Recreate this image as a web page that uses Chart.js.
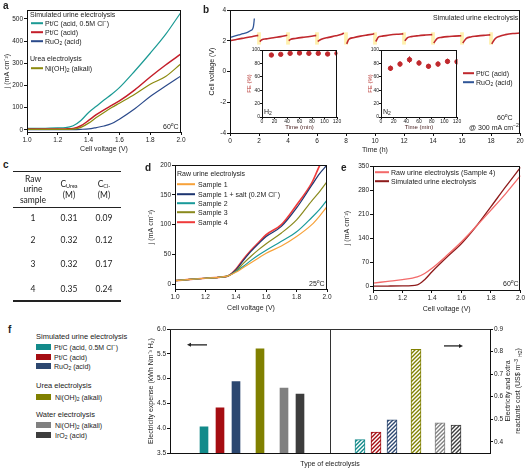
<!DOCTYPE html>
<html>
<head>
<meta charset="utf-8">
<title>Urine electrolysis</title>
<script src="https://cdn.jsdelivr.net/npm/chart.js@4.4.1/dist/chart.umd.min.js"></script>
<style>
  body { margin: 0; background: #fff; }
  #fig { position: relative; width: 526px; height: 469px; overflow: hidden;
         font-family: "Liberation Sans", Arial, sans-serif; color: #222; }
  #fig canvas { position: absolute; }
  .t { position: absolute; white-space: nowrap; font-size: 7px; line-height: 1; transform: translateY(-50%); }
  .t sub, .rot sub { font-size: 5px; line-height: 0; vertical-align: -1.5px; }
  .t sup, .rot sup { font-size: 5px; line-height: 0; vertical-align: 2.5px; }
  .pl { position: absolute; font-weight: bold; font-size: 10px; line-height: 1; transform: translateY(-50%); }
  .sw { position: absolute; height: 1.6px; transform: translateY(-50%); }
  .bx { position: absolute; width: 15px; height: 6px; transform: translateY(-50%); }
  .c { position: absolute; font-family: Lato, "Open Sans", sans-serif; font-size: 8.5px; line-height: 1;
       white-space: nowrap; transform: translate(-50%, -50%); color: #222; }
  .c sub { font-size: 5.5px; vertical-align: -1px; line-height: 0; }
  .rule { position: absolute; left: 13px; width: 108px; background: #222; }
  .rot { position: absolute; transform: translate(-50%, -50%) rotate(-90deg); text-align: center;
         font-size: 7px; line-height: 10px; white-space: nowrap; }
</style>
</head>
<body>
<div id="fig">
  <canvas id="chartA"></canvas>
  <canvas id="chartB"></canvas>
  <canvas id="chartH2"></canvas>
  <canvas id="chartN2"></canvas>
  <canvas id="chartD"></canvas>
  <canvas id="chartE"></canvas>
  <canvas id="chartF"></canvas>

  <!-- panel letters -->
  <div class="pl" style="left:3px;top:6px">a</div>
  <div class="pl" style="left:203px;top:10px">b</div>
  <div class="pl" style="left:3px;top:165px">c</div>
  <div class="pl" style="left:145px;top:168px">d</div>
  <div class="pl" style="left:341px;top:168px">e</div>
  <div class="pl" style="left:8px;top:330px">f</div>

  <!-- a legend -->
  <div class="t" style="left:30px;top:14px">Simulated urine electrolysis</div>
  <div class="sw" style="left:31px;top:23px;width:12px;background:#1b9a94"></div>
  <div class="t" style="left:45px;top:23px">Pt/C (acid, 0.5M Cl<sup>−</sup>)</div>
  <div class="sw" style="left:31px;top:32px;width:12px;background:#c41e2a"></div>
  <div class="t" style="left:45px;top:32px">Pt/C (acid)</div>
  <div class="sw" style="left:31px;top:41px;width:12px;background:#2b4a8b"></div>
  <div class="t" style="left:45px;top:41px">RuO<sub>2</sub> (acid)</div>
  <div class="t" style="left:30px;top:58px">Urea electrolysis</div>
  <div class="sw" style="left:31px;top:68px;width:12px;background:#8c8a0e"></div>
  <div class="t" style="left:45px;top:68px">Ni(OH)<sub>2</sub> (alkali)</div>
  <div class="t" style="left:163px;top:126px">60<sup>o</sup>C</div>

  <!-- b annotations -->
  <div class="t" style="left:433px;top:17px">Simulated urine electrolysis</div>
  <div class="sw" style="left:463px;top:73px;width:11px;background:#c0282d"></div>
  <div class="t" style="left:476px;top:73px">Pt/C (acid)</div>
  <div class="sw" style="left:463px;top:82px;width:11px;background:#2f5597"></div>
  <div class="t" style="left:476px;top:82px">RuO<sub>2</sub> (acid)</div>
  <div class="t" style="left:497px;top:117px">60<sup>o</sup>C</div>
  <div class="t" style="left:469px;top:127px">@ 300 mA cm<sup>−2</sup></div>
  <div class="t" style="left:264px;top:111px">H<sub>2</sub></div>
  <div class="t" style="left:383px;top:111px">N<sub>2</sub></div>

  <!-- c table -->
  <div class="rule" style="top:171px;height:1px"></div>
  <div class="rule" style="top:207px;height:1px"></div>
  <div class="rule" style="top:300px;height:1.5px"></div>
  <div class="c" style="left:33px;top:179px">Raw</div>
  <div class="c" style="left:33px;top:189px">urine</div>
  <div class="c" style="left:33px;top:200px">sample</div>
  <div class="c" style="left:69px;top:184px">C<sub>Urea</sub></div>
  <div class="c" style="left:69px;top:195px">(M)</div>
  <div class="c" style="left:104px;top:184px">C<sub>Cl-</sub></div>
  <div class="c" style="left:104px;top:195px">(M)</div>
  <div id="tableRows"></div>

  <!-- d legend -->
  <div class="t" style="left:177px;top:173px">Raw urine electrolysis</div>
  <div class="sw" style="left:177px;top:184px;width:18px;background:#f7a23a"></div>
  <div class="t" style="left:198px;top:184px">Sample 1</div>
  <div class="sw" style="left:177px;top:194px;width:18px;background:#1d3570"></div>
  <div class="t" style="left:198px;top:194px">Sample 1 + salt (0.2M Cl<sup>−</sup>)</div>
  <div class="sw" style="left:177px;top:203px;width:18px;background:#1a9a9a"></div>
  <div class="t" style="left:198px;top:203px">Sample 2</div>
  <div class="sw" style="left:177px;top:212px;width:18px;background:#8a8a1e"></div>
  <div class="t" style="left:198px;top:212px">Sample 3</div>
  <div class="sw" style="left:177px;top:222px;width:18px;background:#ef3b3b"></div>
  <div class="t" style="left:198px;top:222px">Sample 4</div>
  <div class="t" style="left:309px;top:283px">25<sup>o</sup>C</div>

  <!-- e legend -->
  <div class="sw" style="left:375px;top:172px;width:14px;background:#f36a6a"></div>
  <div class="t" style="left:391px;top:172px">Raw urine electrolysis (Sample 4)</div>
  <div class="sw" style="left:375px;top:181px;width:14px;background:#8e1b1b"></div>
  <div class="t" style="left:391px;top:181px">Simulated urine electrolysis</div>
  <div class="t" style="left:503px;top:283px">60<sup>o</sup>C</div>

  <!-- f legend -->
  <div class="t" style="left:36px;top:337px;font-size:7.5px">Simulated urine electrolysis</div>
  <div class="bx" style="left:36px;top:347px;background:#138a8a"></div>
  <div class="t" style="left:54px;top:347px">Pt/C (acid, 0.5M Cl<sup>−</sup>)</div>
  <div class="bx" style="left:36px;top:357px;background:#a50d12"></div>
  <div class="t" style="left:54px;top:357px">Pt/C (acid)</div>
  <div class="bx" style="left:36px;top:366px;background:#2c4770"></div>
  <div class="t" style="left:54px;top:366px">RuO<sub>2</sub> (acid)</div>
  <div class="t" style="left:36px;top:386px;font-size:7.5px">Urea electrolysis</div>
  <div class="bx" style="left:36px;top:397px;background:#808000"></div>
  <div class="t" style="left:55px;top:397px">Ni(OH)<sub>2</sub> (alkali)</div>
  <div class="t" style="left:36px;top:415px;font-size:7.5px">Water electrolysis</div>
  <div class="bx" style="left:36px;top:425px;background:#808080"></div>
  <div class="t" style="left:55px;top:425px">Ni(OH)<sub>2</sub> (alkali)</div>
  <div class="bx" style="left:36px;top:435px;background:#3d3d3d"></div>
  <div class="t" style="left:55px;top:435px">IrO<sub>2</sub> (acid)</div>
  <div class="rot" style="left:513px;top:391px">Electricity and extra<br>reactants cost (US$ m<sup>−3</sup> <sub>H2</sub>)</div>
</div>

<script>
// ── Data: a (polarisation, simulated urine, 60 °C) ────────
const A_V      = [1.0, 1.1, 1.2, 1.25, 1.3, 1.35, 1.4, 1.45, 1.5, 1.55, 1.6, 1.7, 1.8, 1.9, 2.0];
const A_PTC_CL = [6, 7, 9, 10, 18, 42, 78, 106, 134, 160, 190, 265, 345, 430, 530];
const A_PTC    = [3, 3, 3, 4, 6, 18, 42, 68, 90, 110, 130, 180, 238, 292, 342];
const A_RUO2   = [1, 1, 1, 1, 1, 2, 4, 10, 17, 28, 48, 95, 150, 197, 243];
const A_NIOH   = [2, 2, 2, 2, 3, 11, 30, 55, 78, 100, 120, 160, 205, 240, 298];
const A_YTICKS = [0, 100, 200, 300, 400, 500];

// ── Data: b (stability at 300 mA cm-2) ───────────────────
const B_PTC_T = [0, 0.5, 1, 1.5, 1.95, 2,
  2.05, 2.2, 2.5, 3, 3.5, 3.95, 4,
  4.05, 4.2, 4.5, 5, 5.5, 5.95, 6,
  6.05, 6.3, 6.8, 7.3, 7.7, 7.85, 7.95,
  8.05, 8.2, 8.5, 9, 9.5, 9.95, 10,
  10.05, 10.25, 10.5, 11, 11.5, 11.95, 12,
  12.05, 12.25, 12.5, 13, 13.5, 13.95, 14,
  14.05, 14.3, 14.6, 15, 15.5, 15.95, 16,
  16.05, 16.3, 16.6, 17, 17.5, 17.95, 18,
  18.05, 18.3, 18.6, 19, 19.5, 20];
const B_PTC_V = [2.0, 2.1, 2.18, 2.26, 2.35, null,
  1.95, 2.07, 2.12, 2.2, 2.27, 2.36, null,
  2.0, 2.1, 2.15, 2.22, 2.28, 2.35, null,
  1.95, 2.1, 2.22, 2.32, 2.42, 2.5, null,
  1.8, 2.1, 2.2, 2.3, 2.38, 2.45, null,
  1.95, 2.25, 2.3, 2.37, 2.42, 2.45, null,
  2.0, 2.2, 2.27, 2.33, 2.37, 2.4, null,
  1.85, 2.15, 2.22, 2.27, 2.3, 2.33, null,
  1.85, 2.15, 2.25, 2.3, 2.35, 2.38, null,
  1.8, 2.15, 2.3, 2.4, 2.47, 2.5];
const B_RUO2_T = [0, 0.3, 0.6, 0.9, 1.2, 1.4, 1.55, 1.62, 1.68];
const B_RUO2_V = [2.22, 2.3, 2.38, 2.46, 2.55, 2.65, 2.75, 2.95, 3.45];
const B_RESETS = [2, 4, 6, 8, 10, 12, 14, 16, 18];

// ── Data: b insets (Faradaic efficiency) ──────────────────
const FE_T     = [15, 30, 45, 60, 75, 90, 105, 120];
const FE_H2    = [92.5, 93.5, 95, 95.5, 95, 95, 94, 95];
const FE_H2_ER = [1.5, 1.5, 1.5, 1.5, 1.5, 1.5, 1.5, 1.5];
const FE_N2    = [72.7, 79, 85.6, 80.6, 75.7, 79, 83, 82.5];
const FE_N2_ER = [4, 4, 5, 4, 3.5, 4, 4, 4];

// ── Data: c (raw urine composition) ───────────────────────
const C_SAMPLE = [1, 2, 3, 4];
const C_UREA   = ['0.31', '0.32', '0.32', '0.35'];
const C_CL     = ['0.09', '0.12', '0.17', '0.24'];

// ── Data: d (raw urine samples, 25 °C) ────────────────────
const D_V      = [1.0, 1.1, 1.2, 1.3, 1.35, 1.4, 1.45, 1.5, 1.55, 1.6, 1.7, 1.8, 1.9, 1.95, 2.0];
const D_S1     = [6, 8, 10, 12, 14, 20, 28, 36, 44, 52, 64, 80, 100, 114, 130];
const D_S1SALT = [6, 8, 10, 12, 14, 24, 40, 55, 68, 80, 97, 128, 166, 185, 200];
const D_S2     = [6, 8, 10, 12, 14, 21, 30, 40, 49, 57, 72, 88, 112, 125, 141];
const D_S3     = [6, 8, 10, 12, 14, 22, 35, 47, 58, 68, 86, 108, 140, 155, 172];
const D_S4     = [6, 8, 10, 12, 14, 25, 42, 57, 70, 83, 100, 133, 170, 198, 222];

// ── Data: e (raw vs simulated, 60 °C) ─────────────────────
const E_V   = [1.0, 1.1, 1.2, 1.3, 1.35, 1.4, 1.5, 1.6, 1.7, 1.8, 1.9, 2.0];
const E_RAW = [10, 15, 20, 28, 38, 53, 90, 130, 175, 222, 270, 322];
const E_SIM = [1, 1.5, 2, 5, 20, 43, 85, 125, 175, 232, 290, 346];

// ── Data: f (cost comparison) ─────────────────────────────
const F_CATS    = ['Pt/C (acid, 0.5M Cl⁻)', 'Pt/C (acid)', 'RuO₂ (acid)', 'Ni(OH)₂ (alkali, urea)', 'Ni(OH)₂ (alkali, water)', 'IrO₂ (acid)'];
const F_EXPENSE = [4.05, 4.43, 4.96, 5.62, 4.83, 4.71];
const F_COST    = [0.409, 0.443, 0.497, 0.81, 0.484, 0.474];
const F_COLORS  = ['#138a8a', '#a50d12', '#2c4770', '#808000', '#808080', '#3d3d3d'];
// slot layout on an 80-slot category axis
const F_NSLOTS = 80;
const F_SLOT_EXP  = [8, 12, 16, 22, 28, 32];
const F_SLOT_COST = [47, 51, 55, 61, 67, 71];

// ── Shared helpers ────────────────────────────────────────
const FONT = '"Liberation Sans", Arial, sans-serif';
const xy = (xs, ys) => xs.map((x, i) => ({ x, y: ys[i] }));

function build(id, area, pad, cfg) {
  const c = document.getElementById(id);
  const w = area.w + pad.l + pad.r, h = area.h + pad.t + pad.b;
  Object.assign(c.style, { left: (area.l - pad.l) + 'px', top: (area.t - pad.t) + 'px', width: w + 'px', height: h + 'px' });
  c.width = w; c.height = h;
  const o = cfg.options;
  o.responsive = false;
  o.animation = false;
  o.layout = { padding: { top: pad.t, right: o.scales.y1 ? 0 : pad.r, left: 0, bottom: 0 } };
  o.plugins = Object.assign({ legend: { display: false }, tooltip: { enabled: false } }, o.plugins || {});
  o.scales.x.afterFit = s => { s.height = pad.b; };
  o.scales.y.afterFit = s => { s.width = pad.l; };
  if (o.scales.y1) o.scales.y1.afterFit = s => { s.width = pad.r; };
  return new Chart(c, cfg);
}

// axis with outward ticks; ticks/grid are merged rather than replaced
function axis(extra, size = 6.5, tickLen = 3) {
  const ticks = { color: '#222', font: { size, family: FONT }, padding: 1, maxRotation: 0, minRotation: 0, autoSkip: false };
  const grid = { display: true, drawOnChartArea: false, drawTicks: true, tickLength: tickLen, color: '#111' };
  return Object.assign({ border: { display: true, color: '#111', width: 1 } }, extra, {
    ticks: Object.assign(ticks, extra.ticks || {}),
    grid: Object.assign(grid, extra.grid || {}),
  });
}

function title(text, size = 7, color = '#222') {
  return { display: true, text, color, font: { size, family: FONT }, padding: { top: 1, bottom: 1 } };
}

const fixed = list => s => { s.ticks = list.map(v => ({ value: v })); };
const oneDec = v => Number(v).toFixed(1);

const boxPlugin = {
  id: 'box',
  afterDraw(chart) {
    const { ctx, chartArea: a } = chart;
    ctx.save();
    ctx.strokeStyle = '#111'; ctx.lineWidth = 1;
    ctx.strokeRect(Math.round(a.left) + 0.5, Math.round(a.top) + 0.5, Math.round(a.right - a.left) - 1, Math.round(a.bottom - a.top));
    ctx.restore();
  }
};

function line(data, color, width = 1.2) {
  return { data, borderColor: color, borderWidth: width, pointRadius: 0, cubicInterpolationMode: 'monotone', fill: false };
}

// ── Panel a ───────────────────────────────────────────────
build('chartA', { l: 27, t: 10, w: 154, h: 122 }, { l: 25, t: 6, r: 7, b: 22 }, {
  type: 'line',
  data: { datasets: [
    line(xy(A_V, A_NIOH), '#8c8a0e'),
    line(xy(A_V, A_RUO2), '#2b4a8b'),
    line(xy(A_V, A_PTC), '#c41e2a', 1.5),
    line(xy(A_V, A_PTC_CL), '#1b9a94'),
  ] },
  options: {
    scales: {
      x: axis({ type: 'linear', min: 1, max: 2, ticks: { stepSize: 0.2, callback: oneDec }, title: title('Cell voltage (V)') }),
      y: axis({ min: -10, max: 540, afterBuildTicks: fixed(A_YTICKS), title: title('j (mA cm⁻²)') }),
    }
  },
  plugins: [boxPlugin]
});

// ── Panel b ───────────────────────────────────────────────
const resetPlugin = {
  id: 'resets',
  beforeDatasetsDraw(chart) {
    const { ctx, scales: { x, y } } = chart;
    ctx.save();
    ctx.fillStyle = 'rgba(255, 232, 130, 0.65)';
    B_RESETS.forEach(t => {
      const x0 = x.getPixelForValue(t - 0.13), x1 = x.getPixelForValue(t + 0.13);
      const y0 = y.getPixelForValue(2.55), y1 = y.getPixelForValue(1.75);
      ctx.fillRect(x0, y0, x1 - x0, y1 - y0);
    });
    ctx.restore();
  }
};

build('chartB', { l: 230, t: 10, w: 290, h: 123 }, { l: 23, t: 6, r: 5, b: 22 }, {
  type: 'line',
  data: { datasets: [
    line(xy(B_PTC_T, B_PTC_V), '#c0282d', 1.6),
    line(xy(B_RUO2_T, B_RUO2_V), '#2f5597', 1.3),
  ] },
  options: {
    spanGaps: false,
    scales: {
      x: axis({ type: 'linear', min: 0, max: 20, ticks: { stepSize: 2 }, title: title('Time (h)') }),
      y: axis({ min: -4, max: 4, ticks: { stepSize: 2 }, title: title('Cell voltage (V)') }),
    }
  },
  plugins: [resetPlugin, boxPlugin]
});

// ── Panel b insets ────────────────────────────────────────
const errPlugin = {
  id: 'err',
  afterDatasetsDraw(chart, args, opts) {
    const { ctx, scales: { y } } = chart;
    const meta = chart.getDatasetMeta(0);
    const vals = chart.data.datasets[0].data;
    ctx.save();
    ctx.strokeStyle = '#c0282d'; ctx.lineWidth = 1;
    meta.data.forEach((p, i) => {
      const e = opts.errs[i];
      ctx.beginPath();
      ctx.moveTo(p.x, y.getPixelForValue(vals[i].y - e));
      ctx.lineTo(p.x, y.getPixelForValue(vals[i].y + e));
      ctx.stroke();
    });
    ctx.restore();
  }
};

function feInset(id, area, pad, vals, errs) {
  build(id, area, pad, {
    type: 'scatter',
    data: { datasets: [{ data: xy(FE_T, vals), backgroundColor: '#c0282d', borderColor: '#c0282d', pointRadius: 2.2 }] },
    options: {
      plugins: { err: { errs } },
      scales: {
        x: axis({ type: 'linear', min: 0, max: 120, ticks: { stepSize: 20, padding: 0 }, title: title('Time (min)', 6, '#4a2222') }, 5, 2),
        y: axis({ min: 0, max: 100, ticks: { stepSize: 20, padding: 0 }, title: title('FE (%)', 6, '#b5332f') }, 5, 2),
      }
    },
    plugins: [errPlugin, boxPlugin]
  });
}
feInset('chartH2', { l: 262, t: 49, w: 76, h: 68 }, { l: 17, t: 4, r: 4, b: 15 }, FE_H2, FE_H2_ER);
feInset('chartN2', { l: 381, t: 49, w: 77, h: 68 }, { l: 15, t: 4, r: 4, b: 15 }, FE_N2, FE_N2_ER);

// ── Panel c table rows ────────────────────────────────────
const ROW_Y = [218, 240, 264, 289];
document.getElementById('tableRows').innerHTML = C_SAMPLE.map((s, i) =>
  `<div class="c" style="left:33px;top:${ROW_Y[i]}px">${s}</div>` +
  `<div class="c" style="left:69px;top:${ROW_Y[i]}px">${C_UREA[i]}</div>` +
  `<div class="c" style="left:104px;top:${ROW_Y[i]}px">${C_CL[i]}</div>`).join('');

// ── Panel d ───────────────────────────────────────────────
build('chartD', { l: 175, t: 165, w: 152, h: 124 }, { l: 29, t: 6, r: 8, b: 24 }, {
  type: 'line',
  data: { datasets: [
    line(xy(D_V, D_S1), '#f7a23a'),
    line(xy(D_V, D_S2), '#1a9a9a'),
    line(xy(D_V, D_S3), '#8a8a1e'),
    line(xy(D_V, D_S1SALT), '#1d3570'),
    line(xy(D_V, D_S4), '#ef3b3b', 1.7),
  ] },
  options: {
    scales: {
      x: axis({ type: 'linear', min: 1, max: 2, ticks: { stepSize: 0.2, callback: oneDec }, title: title('Cell voltage (V)') }),
      y: axis({ min: -8, max: 200, afterBuildTicks: fixed([0, 50, 100, 150, 200]), title: title('j (mA cm⁻²)') }),
    }
  },
  plugins: [boxPlugin]
});

// ── Panel e ───────────────────────────────────────────────
build('chartE', { l: 373, t: 166, w: 148, h: 124 }, { l: 31, t: 6, r: 5, b: 24 }, {
  type: 'line',
  data: { datasets: [
    line(xy(E_V, E_RAW), '#f36a6a', 1.3),
    line(xy(E_V, E_SIM), '#8e1b1b', 1.3),
  ] },
  options: {
    scales: {
      x: axis({ type: 'linear', min: 1, max: 2, ticks: { stepSize: 0.2, callback: oneDec }, title: title('Cell voltage (V)') }),
      y: axis({ min: -10, max: 350, afterBuildTicks: fixed([0, 70, 140, 210, 280, 350]), title: title('j (mA cm⁻²)') }),
    }
  },
  plugins: [boxPlugin]
});

// ── Panel f ───────────────────────────────────────────────
function hatch(color) {
  const c = document.createElement('canvas');
  c.width = c.height = 4;
  const g = c.getContext('2d');
  g.fillStyle = '#fff'; g.fillRect(0, 0, 4, 4);
  g.strokeStyle = color; g.lineWidth = 1.4;
  g.beginPath();
  g.moveTo(-1, 5); g.lineTo(5, -1);
  g.moveTo(-1, 1); g.lineTo(1, -1);
  g.moveTo(3, 5); g.lineTo(5, 3);
  g.stroke();
  return g.createPattern(c, 'repeat');
}

const fLabels = Array.from({ length: F_NSLOTS }, () => '');
const fExp = Array(F_NSLOTS).fill(null), fCost = Array(F_NSLOTS).fill(null);
const fExpCol = Array(F_NSLOTS).fill('#000'), fCostCol = Array(F_NSLOTS).fill('#000'), fCostFill = Array(F_NSLOTS).fill('#000');
F_CATS.forEach((name, i) => {
  fLabels[F_SLOT_EXP[i]] = name;
  fLabels[F_SLOT_COST[i]] = name;
  fExp[F_SLOT_EXP[i]] = F_EXPENSE[i];
  fExpCol[F_SLOT_EXP[i]] = F_COLORS[i];
  fCost[F_SLOT_COST[i]] = F_COST[i];
  fCostCol[F_SLOT_COST[i]] = F_COLORS[i];
  fCostFill[F_SLOT_COST[i]] = hatch(F_COLORS[i]);
});

const fDecor = {
  id: 'fDecor',
  afterDraw(chart) {
    const { ctx, chartArea: a, scales: { x, y, y1 } } = chart;
    ctx.save();
    ctx.strokeStyle = '#333'; ctx.lineWidth = 1;
    ctx.beginPath();
    ctx.moveTo(a.left, a.top + 0.5); ctx.lineTo(a.right, a.top + 0.5);
    const mid = Math.round((a.left + a.right) / 2) + 0.5;
    ctx.moveTo(mid, a.top); ctx.lineTo(mid, a.bottom);
    ctx.stroke();
    const arrow = (xTail, xHead, py) => {
      const dir = Math.sign(xHead - xTail);
      ctx.strokeStyle = '#222'; ctx.fillStyle = '#222'; ctx.lineWidth = 1.3;
      ctx.beginPath(); ctx.moveTo(xTail, py); ctx.lineTo(xHead - dir * 3, py); ctx.stroke();
      ctx.beginPath(); ctx.moveTo(xHead, py); ctx.lineTo(xHead - dir * 4, py - 2); ctx.lineTo(xHead - dir * 4, py + 2); ctx.closePath(); ctx.fill();
    };
    arrow(x.getPixelForValue(8.75), x.getPixelForValue(3.75), y.getPixelForValue(5.68));
    arrow(x.getPixelForValue(68), x.getPixelForValue(72.75), y1.getPixelForValue(0.825));
    ctx.restore();
  }
};

build('chartF', { l: 170, t: 329, w: 320, h: 124 }, { l: 24, t: 6, r: 36, b: 16 }, {
  type: 'bar',
  data: {
    labels: fLabels,
    datasets: [
      { data: fExp, yAxisID: 'y', backgroundColor: fExpCol, borderColor: 'rgba(255,255,255,0.45)', borderWidth: 1, barThickness: 10, grouped: false, skipNull: true },
      { data: fCost, yAxisID: 'y1', backgroundColor: fCostFill, borderColor: fCostCol, borderWidth: 1, barThickness: 10, grouped: false, skipNull: true },
    ]
  },
  options: {
    scales: {
      x: { type: 'category', offset: true, border: { display: true, color: '#111' }, grid: { display: false }, ticks: { display: false }, title: title('Type of electrolysis') },
      y: axis({ position: 'left', min: 3.5, max: 6.0, afterBuildTicks: fixed([3.5, 4.0, 4.5, 5.0, 5.5, 6.0]), ticks: { callback: oneDec }, title: title('Electricity expense (kWh Nm⁻³ H₂)') }),
      y1: axis({ position: 'right', min: 0.35, max: 0.9, afterBuildTicks: fixed([0.4, 0.5, 0.6, 0.7, 0.8, 0.9]), ticks: { callback: oneDec } }),
    }
  },
  plugins: [fDecor]
});
</script>
</body>
</html>
